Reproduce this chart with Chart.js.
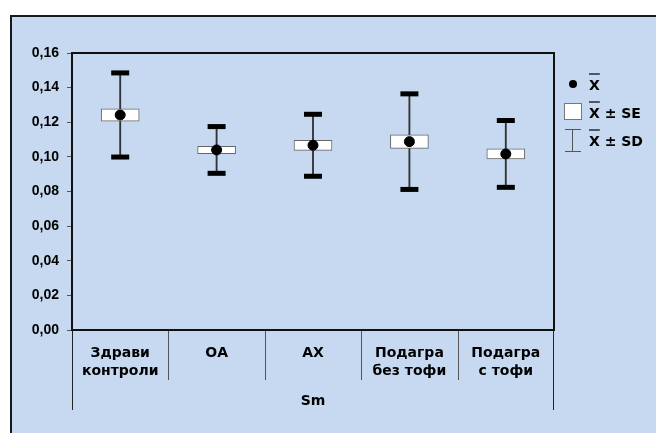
<!DOCTYPE html>
<html>
<head>
<meta charset="utf-8">
<script src="https://cdn.jsdelivr.net/npm/chart.js@4"></script>
<style>
  html, body { margin: 0; padding: 0; background: #fff; }
  #wrap { width: 656px; height: 433px; }
</style>
</head>
<body>
<div id="wrap"><canvas id="chart" width="656" height="433"></canvas></div>
<script>
// values
const categories = [['Здрави', 'контроли'], ['ОА'], ['АХ'], ['Подагра', 'без тофи'], ['Подагра', 'с тофи']];
const means = [0.1242, 0.1040, 0.1067, 0.1088, 0.1017];
const se = [0.0036, 0.0021, 0.0029, 0.0039, 0.0029];
const sd = [0.0243, 0.0135, 0.0179, 0.0276, 0.0193];
const yTicks = [0, 0.02, 0.04, 0.06, 0.08, 0.10, 0.12, 0.14, 0.16];
const xTitle = 'Sm';

const seRange = means.map((m, i) => [m - se[i], m + se[i]]);
const sdRange = means.map((m, i) => [m - sd[i], m + sd[i]]);
const sdTop = means.map((m, i) => m + sd[i]);
const sdBottom = means.map((m, i) => m - sd[i]);

const WIDE = '"DejaVu Sans", Verdana, sans-serif';
const NARROW = '"Liberation Sans", Arial, sans-serif';

const backdrop = {
    id: 'backdrop',
    beforeDraw(chart) {
        const ctx = chart.ctx;
        ctx.save();
        ctx.fillStyle = '#fff';
        ctx.fillRect(0, 0, chart.width, chart.height);
        ctx.fillStyle = '#c6d9f1';
        ctx.fillRect(10, 15, chart.width - 10, chart.height - 15);
        ctx.strokeStyle = '#1a1a1a';
        ctx.lineWidth = 2;
        ctx.beginPath();
        ctx.moveTo(11, chart.height);
        ctx.lineTo(11, 16);
        ctx.lineTo(chart.width, 16);
        ctx.stroke();
        ctx.restore();
    }
};

const frame = {
    id: 'frame',
    afterDraw(chart) {
        const ctx = chart.ctx;
        const a = chart.chartArea;
        const x = chart.scales.x;
        ctx.save();
        // category separators below the axis
        ctx.strokeStyle = '#555';
        ctx.lineWidth = 1;
        ctx.beginPath();
        for (let i = 1; i < categories.length; i++) {
            const px = Math.round((x.getPixelForValue(i - 1) + x.getPixelForValue(i)) / 2) + 0.5;
            ctx.moveTo(px, a.bottom);
            ctx.lineTo(px, a.bottom + 50);
        }
        ctx.stroke();
        ctx.strokeStyle = '#222';
        ctx.beginPath();
        ctx.moveTo(a.left + 0.5, a.bottom);
        ctx.lineTo(a.left + 0.5, a.bottom + 80);
        ctx.moveTo(a.right - 0.5, a.bottom);
        ctx.lineTo(a.right - 0.5, a.bottom + 80);
        ctx.stroke();
        // plot frame
        ctx.strokeStyle = '#111';
        ctx.lineWidth = 2;
        ctx.strokeRect(a.left, a.top, a.right - a.left, a.bottom - a.top);

        // legend
        const lx = a.right + 19;
        ctx.fillStyle = '#000';
        ctx.beginPath();
        ctx.arc(lx, 84, 4, 0, Math.PI * 2);
        ctx.fill();

        ctx.fillStyle = '#fff';
        ctx.fillRect(lx - 8, 103, 17, 16);
        ctx.strokeStyle = '#777';
        ctx.lineWidth = 1;
        ctx.strokeRect(lx - 8.5, 103.5, 17, 16);

        ctx.strokeStyle = '#555';
        ctx.beginPath();
        ctx.moveTo(lx - 8, 129.5); ctx.lineTo(lx + 8, 129.5);
        ctx.moveTo(lx - 8, 151.5); ctx.lineTo(lx + 8, 151.5);
        ctx.moveTo(lx - 0.5, 129.5); ctx.lineTo(lx - 0.5, 151.5);
        ctx.stroke();

        ctx.font = 'bold 14px ' + WIDE;
        ctx.fillStyle = '#000';
        ctx.textBaseline = 'alphabetic';
        ctx.textAlign = 'left';
        const tx = lx + 16;
        const rows = [[90, 'X'], [118, 'X ± SE'], [146, 'X ± SD']];
        ctx.strokeStyle = '#000';
        ctx.lineWidth = 1.2;
        rows.forEach(([ty, t]) => {
            ctx.fillText(t, tx, ty);
            const w = ctx.measureText('X').width;
            ctx.beginPath();
            ctx.moveTo(tx, ty - 16);
            ctx.lineTo(tx + w, ty - 16);
            ctx.stroke();
        });
        ctx.restore();
    }
};

new Chart(document.getElementById('chart'), {
    type: 'bar',
    data: {
        labels: categories,
        datasets: [
            {
                type: 'line',
                label: 'mean',
                data: means,
                showLine: false,
                pointRadius: 5,
                pointBackgroundColor: '#000',
                pointBorderColor: '#000',
                order: 0
            },
            {
                type: 'line',
                label: 'sd top',
                data: sdTop,
                showLine: false,
                pointStyle: 'line',
                pointRadius: 9,
                pointBorderWidth: 5,
                pointBorderColor: '#000',
                order: 1
            },
            {
                type: 'line',
                label: 'sd bottom',
                data: sdBottom,
                showLine: false,
                pointStyle: 'line',
                pointRadius: 9,
                pointBorderWidth: 5,
                pointBorderColor: '#000',
                order: 1
            },
            {
                label: 'se',
                data: seRange,
                grouped: false,
                barThickness: 38,
                backgroundColor: '#fff',
                borderColor: '#666',
                borderWidth: 1,
                borderSkipped: false,
                order: 2
            },
            {
                label: 'sd',
                data: sdRange,
                grouped: false,
                barThickness: 1.2,
                backgroundColor: '#333',
                order: 3
            }
        ]
    },
    options: {
        responsive: false,
        animation: false,
        layout: { padding: { top: 53, right: 102, left: 0, bottom: 0 } },
        plugins: {
            legend: { display: false },
            tooltip: { enabled: false }
        },
        scales: {
            x: {
                type: 'category',
                offset: true,
                grid: { display: false },
                border: { display: false },
                ticks: {
                    color: '#000',
                    font: { family: WIDE, size: 14, weight: 'bold', lineHeight: 1.28 },
                    padding: 6,
                    maxRotation: 0,
                    autoSkip: false
                },
                title: {
                    display: true,
                    text: xTitle,
                    color: '#000',
                    font: { family: WIDE, size: 14, weight: 'bold' },
                    padding: { top: 0, bottom: 23 }
                },
                afterFit(scale) { scale.height = 103; }
            },
            y: {
                min: 0,
                max: 0.16,
                afterBuildTicks(scale) { scale.ticks = yTicks.map(v => ({ value: v })); },
                grid: { drawOnChartArea: false, drawTicks: true, tickLength: 5, color: '#555' },
                border: { display: false },
                ticks: {
                    color: '#000',
                    font: { family: NARROW, size: 14, weight: 'bold' },
                    padding: 8,
                    callback: v => v.toFixed(2).replace('.', ',')
                },
                afterFit(scale) { scale.width = 72; }
            }
        }
    },
    plugins: [backdrop, frame]
});
</script>
</body>
</html>
